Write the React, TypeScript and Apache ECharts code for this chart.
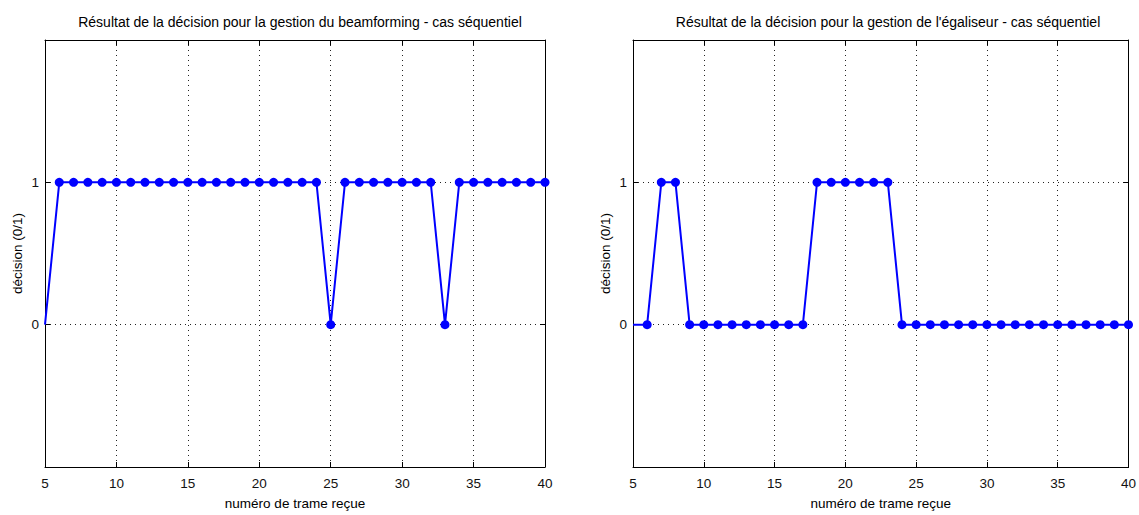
import React, { useEffect, useRef } from "react";
import * as echarts from "echarts";

const frames = [5, 6, 7, 8, 9, 10, 11, 12, 13, 14, 15, 16, 17, 18, 19, 20, 21, 22, 23, 24, 25, 26, 27, 28, 29, 30, 31, 32, 33, 34, 35, 36, 37, 38, 39, 40];
const beamforming = [0, 1, 1, 1, 1, 1, 1, 1, 1, 1, 1, 1, 1, 1, 1, 1, 1, 1, 1, 1, 0, 1, 1, 1, 1, 1, 1, 1, 0, 1, 1, 1, 1, 1, 1, 1];
const egaliseur = [0, 0, 1, 1, 0, 0, 0, 0, 0, 0, 0, 0, 0, 1, 1, 1, 1, 1, 1, 0, 0, 0, 0, 0, 0, 0, 0, 0, 0, 0, 0, 0, 0, 0, 0, 0];
const titles = [
  "Résultat de la décision pour la gestion du beamforming - cas séquentiel",
  "Résultat de la décision pour la gestion de l'égaliseur - cas séquentiel",
];
const xLabel = "numéro de trame reçue";
const yLabel = "décision (0/1)";
const yTickLabels = ["0", "1"];

const FONT = "Liberation Sans";

export default function App() {
  const ref = useRef<HTMLDivElement>(null);
  useEffect(() => {
    document.body.style.margin = "0";
    const chart = echarts.init(ref.current!, null, { renderer: "svg" });
    const grids = [
      { left: 45, top: 40, width: 500, height: 431 },
      { left: 633, top: 40, width: 500, height: 431 },
    ];
    const series = [beamforming, egaliseur];
    const xAxes: any[] = [];
    const yAxes: any[] = [];
    grids.forEach((g, i) => {
      xAxes.push({
        type: "value",
        gridIndex: i,
        min: 5,
        max: 40,
        interval: 5,
        name: xLabel,
        nameLocation: "middle",
        nameGap: 29,
        nameTextStyle: { fontFamily: FONT, fontSize: 13.5, color: "#000" },
        axisLine: { show: true, onZero: false, lineStyle: { color: "#000", width: 1 } },
        axisTick: { show: true, inside: true, length: 5, lineStyle: { color: "#000" } },
        axisLabel: { fontFamily: FONT, fontSize: 13.5, color: "#111", margin: 9 },
        splitLine: { show: true, lineStyle: { color: "#222", type: [1, 4], width: 1 } },
      });
      xAxes.push({
        type: "value",
        gridIndex: i,
        position: "top",
        min: 5,
        max: 40,
        interval: 5,
        axisLine: { show: true, onZero: false, lineStyle: { color: "#000", width: 1 } },
        axisTick: { show: true, inside: true, length: 5, lineStyle: { color: "#000" } },
        axisLabel: { show: false },
        splitLine: { show: false },
      });
      yAxes.push({
        type: "value",
        gridIndex: i,
        min: -1,
        max: 2,
        interval: 1,
        name: yLabel,
        nameLocation: "middle",
        nameGap: 21,
        nameTextStyle: { fontFamily: FONT, fontSize: 13.5, color: "#000" },
        axisLine: { show: true, onZero: false, lineStyle: { color: "#000", width: 1 } },
        axisTick: { show: true, inside: true, length: 5, lineStyle: { color: "#000" } },
        axisLabel: {
          fontFamily: FONT,
          fontSize: 13.5,
          color: "#111",
          margin: 6,
          formatter: (v: number) => (yTickLabels.includes(String(v)) ? String(v) : ""),
        },
        splitLine: { show: true, lineStyle: { color: "#222", type: [1, 4], width: 1 } },
      });
      yAxes.push({
        type: "value",
        gridIndex: i,
        position: "right",
        min: -1,
        max: 2,
        interval: 1,
        axisLine: { show: true, onZero: false, lineStyle: { color: "#000", width: 1 } },
        axisTick: { show: true, inside: true, length: 5, lineStyle: { color: "#000" } },
        axisLabel: { show: false },
        splitLine: { show: false },
      });
    });
    chart.setOption({
      animation: false,
      backgroundColor: "#fff",
      title: titles.map((t, i) => ({
        text: t,
        left: grids[i].left + grids[i].width / 2,
        textAlign: "center",
        top: 10,
        textStyle: { fontFamily: FONT, fontSize: 14, fontWeight: "normal", color: "#000" },
      })),
      grid: grids.map((g) => ({ ...g, show: false })),
      xAxis: xAxes,
      yAxis: yAxes,
      series: series.map((vals, i) => ({
        type: "line",
        xAxisIndex: i * 2,
        yAxisIndex: i * 2,
        clip: false,
        symbol: "circle",
        symbolSize: 9,
        lineStyle: { color: "#0000ff", width: 2 },
        itemStyle: { color: "#0000ff" },
        data: frames.map((f, k) =>
          k === 0 ? { value: [f, vals[k]], symbol: "none" } : [f, vals[k]]
        ),
      })),
    });
    return () => chart.dispose();
  }, []);
  return <div ref={ref} style={{ width: 1139, height: 515 }} />;
}
